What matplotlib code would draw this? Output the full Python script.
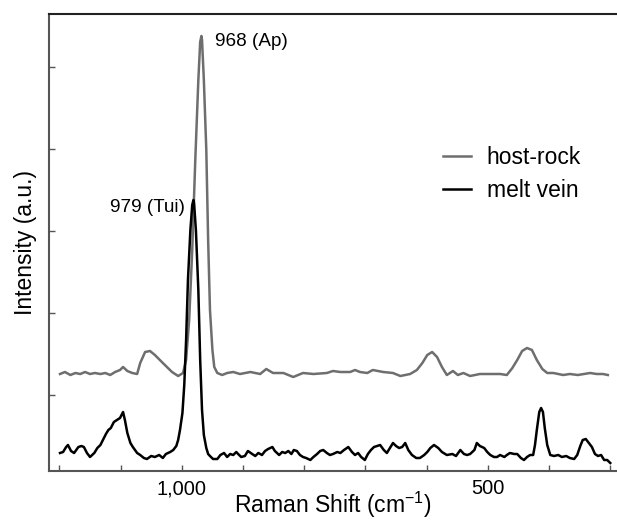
import matplotlib
matplotlib.use('Agg')
import matplotlib.pyplot as plt

plt.rcParams['font.family'] = ['Liberation Sans', 'DejaVu Sans']
plt.rcParams['mathtext.fontset'] = 'custom'
plt.rcParams['mathtext.rm'] = 'Liberation Sans'
plt.rcParams['mathtext.it'] = 'Liberation Sans:italic'

# Raman shift (cm-1) and intensity (a.u.)
host_x = [1199, 1191, 1182, 1174, 1166, 1158, 1150, 1142, 1133, 1125,
          1117, 1109, 1101, 1096, 1089, 1081, 1073, 1068, 1060, 1052,
          1044, 1031, 1016, 1006, 998, 993, 988, 983, 978, 973,
          970, 968, 967, 964, 960, 957, 954, 950, 947, 942,
          934, 926, 916, 905, 888, 872, 862, 851, 834, 818,
          802, 785, 763, 753, 741, 725, 717, 709, 697, 688,
          671, 655, 643, 627, 616, 607, 599, 591, 583, 575,
          567, 557, 549, 540, 529, 513, 496, 480, 469, 460,
          452, 444, 436, 428, 420, 411, 403, 393, 377, 366,
          353, 333, 322, 312, 304]
host_y = [0.97, 0.99, 0.96, 0.98, 0.97, 0.99, 0.97, 0.98, 0.97, 0.98,
          0.96, 0.99, 1.01, 1.04, 1.00, 0.98, 0.97, 1.08, 1.19, 1.20,
          1.16, 1.08, 0.99, 0.95, 0.98, 1.11, 1.51, 2.21, 3.11, 3.91,
          4.29, 4.35, 4.31, 3.91, 3.21, 2.31, 1.61, 1.21, 1.04, 0.98,
          0.96, 0.98, 0.99, 0.97, 0.99, 0.97, 1.02, 0.98, 0.98, 0.94,
          0.98, 0.97, 0.98, 1.00, 0.99, 0.99, 1.01, 0.99, 0.98, 1.01,
          0.99, 0.98, 0.95, 0.97, 1.01, 1.08, 1.16, 1.19, 1.14, 1.04,
          0.96, 1.00, 0.96, 0.98, 0.95, 0.97, 0.97, 0.97, 0.96, 1.03,
          1.11, 1.20, 1.23, 1.21, 1.11, 1.02, 0.98, 0.98, 0.96, 0.97,
          0.96, 0.98, 0.97, 0.97, 0.96]

vein_x = [1199, 1194, 1189, 1186, 1181, 1176, 1169, 1164, 1160, 1155,
          1150, 1143, 1138, 1133, 1129, 1124, 1120, 1116, 1111, 1106,
          1101, 1096, 1093, 1089, 1084, 1080, 1073, 1068, 1062, 1057,
          1050, 1044, 1037, 1031, 1026, 1019, 1014, 1009, 1006, 1003,
          999, 996, 993, 990, 986, 983, 981, 980, 977, 973,
          970, 967, 964, 960, 957, 954, 949, 942, 937, 931,
          926, 921, 916, 911, 908, 903, 897, 892, 885, 880,
          875, 869, 864, 859, 852, 848, 841, 836, 831, 826,
          821, 817, 812, 807, 802, 797, 790, 785, 779, 774,
          769, 763, 758, 753, 746, 741, 735, 728, 722, 717,
          712, 707, 701, 696, 691, 686, 681, 676, 670, 665,
          660, 655, 650, 645, 640, 635, 630, 624, 617, 611,
          604, 599, 594, 588, 581, 575, 567, 558, 552, 545,
          539, 534, 529, 522, 518, 513, 506, 501, 496, 490,
          485, 480, 473, 469, 464, 457, 452, 446, 441, 436,
          431, 426, 423, 420, 416, 413, 410, 407, 403, 398,
          392, 385, 379, 372, 366, 359, 354, 349, 345, 340,
          335, 330, 325, 320, 315, 310, 305, 300]
vein_y = [0.18, 0.19, 0.24, 0.26, 0.20, 0.18, 0.24, 0.25, 0.24, 0.18,
          0.14, 0.18, 0.23, 0.26, 0.31, 0.37, 0.41, 0.43, 0.49, 0.51,
          0.53, 0.59, 0.51, 0.38, 0.28, 0.24, 0.18, 0.16, 0.13, 0.12,
          0.15, 0.14, 0.16, 0.13, 0.17, 0.19, 0.21, 0.25, 0.31, 0.41,
          0.58, 0.86, 1.31, 1.91, 2.41, 2.66, 2.71, 2.68, 2.41, 1.81,
          1.11, 0.61, 0.36, 0.23, 0.17, 0.15, 0.12, 0.12, 0.16, 0.18,
          0.14, 0.17, 0.16, 0.19, 0.17, 0.14, 0.15, 0.20, 0.17, 0.15,
          0.18, 0.16, 0.20, 0.22, 0.24, 0.20, 0.16, 0.19, 0.18, 0.20,
          0.17, 0.21, 0.20, 0.16, 0.14, 0.13, 0.11, 0.14, 0.17, 0.20,
          0.21, 0.18, 0.16, 0.17, 0.19, 0.18, 0.21, 0.24, 0.19, 0.16,
          0.18, 0.14, 0.11, 0.17, 0.21, 0.24, 0.25, 0.26, 0.21, 0.18,
          0.23, 0.28, 0.25, 0.23, 0.24, 0.28, 0.21, 0.16, 0.13, 0.13,
          0.16, 0.19, 0.23, 0.26, 0.23, 0.19, 0.16, 0.17, 0.15, 0.21,
          0.17, 0.16, 0.17, 0.21, 0.28, 0.25, 0.23, 0.19, 0.16, 0.14,
          0.14, 0.16, 0.14, 0.16, 0.18, 0.17, 0.17, 0.13, 0.11, 0.14,
          0.16, 0.16, 0.26, 0.41, 0.59, 0.63, 0.59, 0.43, 0.26, 0.16,
          0.15, 0.16, 0.14, 0.15, 0.13, 0.12, 0.16, 0.25, 0.31, 0.32,
          0.28, 0.24, 0.17, 0.15, 0.16, 0.11, 0.11, 0.08]

x_ticks = [1200, 1100, 1000, 900, 800, 700, 600, 500, 400, 300]
x_tick_labels = ['', '', '1,000', '', '', '', '', '500', '', '']
y_ticks = [0.76, 1.58, 2.40, 3.22, 4.04]

fig = plt.figure(figsize=(6.17, 5.21), dpi=100)
ax = fig.add_axes([49 / 617, 1 - 471 / 521, 1 - 49 / 617, (471 - 14) / 521])

ax.plot(host_x, host_y, color='#6e6e6e', lw=1.8, label='host-rock')
ax.plot(vein_x, vein_y, color='black', lw=1.8, label='melt vein')

ax.set_xlim(1217, 289)
ax.set_ylim(0, 4.57)
ax.set_xticks(x_ticks)
ax.set_xticklabels(x_tick_labels)
ax.set_yticks(y_ticks)
ax.set_yticklabels([])
ax.tick_params(direction='in', length=4.5, width=1, color='#555555')
ax.tick_params(axis='x', labelsize=14.4, pad=6)

for s in ['left', 'bottom']:
    ax.spines[s].set_color('#555555')
    ax.spines[s].set_linewidth(1.5)
ax.spines['top'].set_color('#222222')
ax.spines['top'].set_linewidth(1.5)
ax.spines['right'].set_visible(False)

ax.set_xlabel('Raman Shift (cm$^{-1}$)', fontsize=16.5, labelpad=-6)
ax.set_ylabel('Intensity (a.u.)', fontsize=16.5, labelpad=5)

ax.text(946, 4.30, '968 (Ap)', fontsize=13.6, ha='left', va='center')
ax.text(995, 2.63, '979 (Tui)', fontsize=13.6, ha='right', va='center')

ax.legend(loc='upper left', bbox_to_anchor=(0.694, 0.712), frameon=False,
          fontsize=16.5, handlelength=1.2, handletextpad=0.7,
          labelspacing=0.45, borderpad=0, borderaxespad=0)

fig.savefig('out.png', dpi=100)
